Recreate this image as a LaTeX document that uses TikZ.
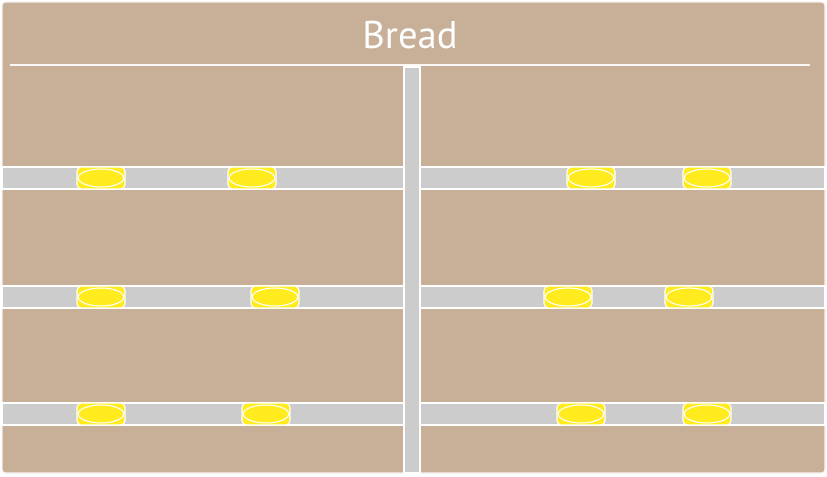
\documentclass[tikz,border=0pt]{standalone}
\usepackage{fontspec}
\setmainfont{PT Sans}
\usetikzlibrary{positioning}
\definecolor{crust}{RGB}{200,176,152}
\definecolor{lanegrey}{RGB}{204,204,204}
\definecolor{butter}{RGB}{255,235,30}
\tikzset{
  tray/.style={
    fill=crust,
    draw=white!85!crust,
    line width=0.6pt,
    rounded corners=2pt},
  lane/.style={fill=lanegrey, draw=white, line width=0.6pt},
  rule/.style={draw=white!92!crust, line width=1.1pt},
  bun/.style={
    rectangle,
    rounded corners=2.5pt,
    fill=butter,
    draw=white, line width=0.6pt,
    minimum width=0.96cm,
    minimum height=0.44cm,
    inner sep=0pt,
    path picture={\draw[white, line width=0.6pt]
      (path picture bounding box.center) ellipse (0.455cm and 0.18cm);}},
  title/.style={text=white, font=\fontsize{22}{26}\selectfont},
}
\begin{document}
\begin{tikzpicture}[x=0.02cm, y=-0.02cm]
  \useasboundingbox (0,0) rectangle (827,476);
  % the tray
  \draw[tray] (2,2) rectangle (825,473);
  \node[title] (bread) at (410,35) {Bread};
  \draw[rule] (10,65) -- (810,65);
  % the lanes
  \draw[lane] (404,67) rectangle (420,473);
  \foreach \y in {178,297,414}{
    \draw[lane] (2,\y-11) rectangle (404,\y+11);
    \draw[lane] (420,\y-11) rectangle (825,\y+11);
  }
  % the buns
  \node[bun] (bunAa) at (101,178) {};
  \node[bun] (bunAb) at (252,178) {};
  \node[bun] (bunAc) at (591,178) {};
  \node[bun] (bunAd) at (707,178) {};
  \node[bun] (bunBa) at (101,297) {};
  \node[bun] (bunBb) at (275,297) {};
  \node[bun] (bunBc) at (568,297) {};
  \node[bun] (bunBd) at (689,297) {};
  \node[bun] (bunCa) at (101,414) {};
  \node[bun] (bunCb) at (266,414) {};
  \node[bun] (bunCc) at (581,414) {};
  \node[bun] (bunCd) at (707,414) {};
\end{tikzpicture}
\end{document}
